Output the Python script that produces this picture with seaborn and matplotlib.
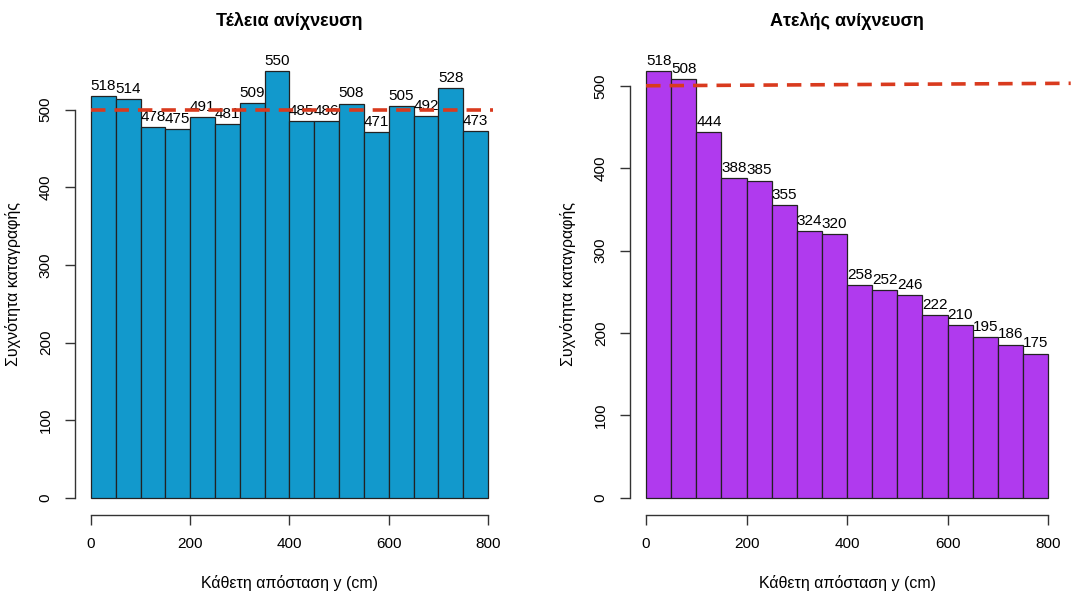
import numpy as np
import pandas as pd
import matplotlib
matplotlib.use("Agg")
import matplotlib.pyplot as plt
import seaborn as sns

# bin edges (cm) and counts per bin
bin_edges = [0, 50, 100, 150, 200, 250, 300, 350, 400, 450, 500, 550, 600, 650, 700, 750, 800]
perfect_counts = [518, 514, 478, 475, 491, 481, 509, 550, 485, 486, 508, 471, 505, 492, 528, 473]
imperfect_counts = [518, 508, 444, 388, 385, 355, 324, 320, 258, 252, 246, 222, 210, 195, 186, 175]

# expected level (dashed line)
perfect_ref_x = [0, 810]
perfect_ref_y = [500, 500]
imperfect_ref_x = [0, 845]
imperfect_ref_y = [500, 503]

titles = ["Τέλεια ανίχνευση", "Ατελής ανίχνευση"]
colors = ["#1299cc", "#b03aee"]
xlabel = "Κάθετη απόσταση y (cm)"
ylabel = "Συχνότητα καταγραφής"

sns.set_style("white")
plt.rcParams["font.family"] = ["Liberation Sans", "DejaVu Sans"]
plt.rcParams["text.color"] = "black"
plt.rcParams["axes.labelcolor"] = "black"
plt.rcParams["xtick.color"] = "black"
plt.rcParams["ytick.color"] = "black"

fig = plt.figure(figsize=(10.72, 5.95), dpi=100)
ax1 = fig.add_axes([0.070, 0.1345, 0.400, 0.775])
ax2 = fig.add_axes([0.5877, 0.1345, 0.405, 0.775])

panels = [
    (ax1, perfect_counts, perfect_ref_x, perfect_ref_y),
    (ax2, imperfect_counts, imperfect_ref_x, imperfect_ref_y),
]

for i, (ax, counts, rx, ry) in enumerate(panels):
    centers = [(a + b) / 2 for a, b in zip(bin_edges[:-1], bin_edges[1:])]
    df = pd.DataFrame({"y": centers, "n": counts})
    sns.histplot(data=df, x="y", weights="n", bins=bin_edges, ax=ax,
                 color=colors[i], alpha=1, edgecolor="#222222", linewidth=0.9)
    for c, n in zip(centers, counts):
        ax.text(c, n + 4, str(n), ha="center", va="bottom", fontsize=11, color="black")
    ax.plot(rx, ry, ls=(0, (4, 2.5)), color="#d93a1e", lw=2.6, clip_on=False, zorder=5)

    ymax = max(counts)
    ax.set_xlim(-32, 832)
    ax.set_ylim(-0.04 * ymax, 1.04 * ymax)
    ax.set_xticks([0, 200, 400, 600, 800])
    ax.set_yticks([0, 100, 200, 300, 400, 500])
    ax.spines["top"].set_visible(False)
    ax.spines["right"].set_visible(False)
    ax.spines["left"].set_bounds(0, 500)
    ax.spines["bottom"].set_bounds(0, 800)
    for s in ["left", "bottom"]:
        ax.spines[s].set_color("#333333")
        ax.spines[s].set_linewidth(1.0)
    ax.tick_params(axis="both", direction="out", length=7, width=1.0,
                   color="#333333", labelcolor="black", labelsize=11, pad=9,
                   left=True, bottom=True)
    for lab in ax.get_yticklabels():
        lab.set_rotation(90)
        lab.set_va("center")
    ax.set_title(titles[i], fontsize=13, fontweight="bold", pad=20, color="black")
    ax.set_xlabel(xlabel, fontsize=11.5, labelpad=17)
    ax.set_ylabel(ylabel, fontsize=11.5, labelpad=13)

fig.savefig("out.png", dpi=100)
